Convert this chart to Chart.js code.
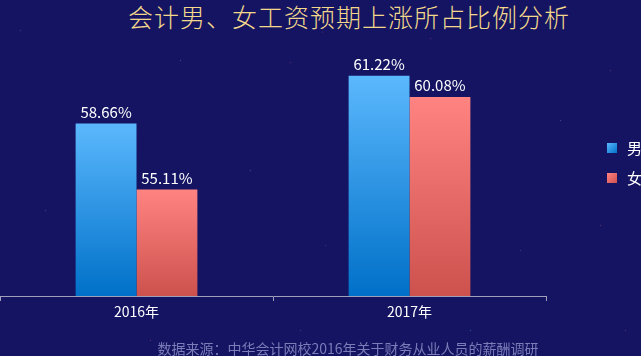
<!DOCTYPE html>
<html>
<head>
<meta charset="utf-8">
<script src="https://cdn.jsdelivr.net/npm/chart.js@4"></script>
<style>
  html, body { margin: 0; padding: 0; }
  body {
    width: 641px; height: 356px; overflow: hidden; position: relative;
    background: #141462;
    font-family: "Noto Sans CJK SC", "Noto Sans", sans-serif;
  }
  #stars { position: absolute; left: 0; top: 0; width: 1px; height: 1px; border-radius: 50%;
    box-shadow:
      290px 62px 2px rgba(255,120,140,.7), 322px 32px 2px rgba(255,120,140,.6), 430px 38px 2px rgba(255,130,150,.6),
      180px 60px 1px rgba(200,200,255,.5), 520px 20px 1px rgba(200,200,255,.5), 610px 70px 1px rgba(255,130,150,.5),
      45px 210px 1px rgba(255,130,150,.5), 250px 170px 1px rgba(200,200,255,.5), 325px 245px 2px rgba(255,130,150,.6),
      560px 120px 1px rgba(200,200,255,.5), 600px 225px 1px rgba(255,130,150,.5), 470px 330px 1px rgba(120,220,255,.6),
      20px 30px 1px rgba(200,200,255,.4), 95px 290px 1px rgba(200,200,255,.4), 520px 250px 1px rgba(200,200,255,.4),
      300px 330px 1px rgba(200,200,255,.4), 150px 340px 1px rgba(255,130,150,.5), 625px 330px 1px rgba(255,130,150,.5);
  }
  #title {
    position: absolute; left: 0; width: 698px; top: -2px; text-align: center;
    color: #f3d88c; font-size: 25px; font-weight: 300; letter-spacing: 1px; white-space: nowrap;
  }
  #source {
    position: absolute; left: 0; width: 696px; top: 338px; text-align: center;
    color: #7b7cb8; font-size: 14px; white-space: nowrap;
  }
  #legend { position: absolute; left: 607px; top: 139px; color: #fff; font-size: 15px; }
  .item { height: 30px; display: flex; align-items: flex-start; }
  .box { width: 10px; height: 10px; margin-top: 4px; margin-right: 10px; }
  .lbl { line-height: 18px; }
  canvas { position: absolute; left: 0; top: 0; }
</style>
</head>
<body>
<div id="stars"></div>
<div id="title">会计男、女工资预期上涨所占比例分析</div>
<canvas id="chart" width="641" height="356"></canvas>
<div id="legend"></div>
<div id="source">数据来源：中华会计网校2016年关于财务从业人员的薪酬调研</div>
<script>
const categories = ["2016年", "2017年"];
const seriesNames = ["男", "女"];
const maleValues = [58.66, 61.22];
const femaleValues = [55.11, 60.08];

const gradColors = [
  ["#5bb8fd", "#0070c8"],
  ["#ff8481", "#cd524e"]
];

function barGradient(context, pair) {
  const chart = context.chart;
  const area = chart.chartArea;
  if (!area || context.parsed == null) return pair[1];
  const top = chart.scales.y.getPixelForValue(context.parsed.y);
  const g = chart.ctx.createLinearGradient(0, top, 0, area.bottom);
  g.addColorStop(0, pair[0]);
  g.addColorStop(1, pair[1]);
  return g;
}

// value labels above each bar
const valueLabels = {
  id: "valueLabels",
  afterDatasetsDraw(chart) {
    const ctx = chart.ctx;
    ctx.save();
    ctx.fillStyle = "#ffffff";
    ctx.font = '15px "Noto Sans CJK SC", sans-serif';
    ctx.textAlign = "center";
    ctx.textBaseline = "bottom";
    chart.data.datasets.forEach((ds, i) => {
      chart.getDatasetMeta(i).data.forEach((bar, j) => {
        ctx.fillText(ds.data[j].toFixed(2) + "%", bar.x, bar.y - 4);
      });
    });
    ctx.restore();
  }
};

new Chart(document.getElementById("chart"), {
  type: "bar",
  data: {
    labels: categories,
    datasets: [
      { label: seriesNames[0], data: maleValues, borderWidth: 0, backgroundColor: c => barGradient(c, gradColors[0]) },
      { label: seriesNames[1], data: femaleValues, borderWidth: 0, backgroundColor: c => barGradient(c, gradColors[1]) }
    ]
  },
  options: {
    responsive: false,
    animation: false,
    layout: { padding: { top: 50, right: 95, left: 0, bottom: 0 } },
    datasets: { bar: { categoryPercentage: 0.446, barPercentage: 1 } },
    plugins: { legend: { display: false }, tooltip: { enabled: false } },
    scales: {
      x: {
        afterFit: s => { s.height = 60; },
        border: { color: "#a0a0bc" },
        grid: { offset: true, drawOnChartArea: false, color: "#a0a0bc", tickLength: 5 },
        ticks: { color: "#ffffff", font: { size: 14, family: "Noto Sans CJK SC" }, padding: 2 }
      },
      y: { display: false, min: 49.4, max: 62.6 }
    }
  },
  plugins: [valueLabels]
});

// legend
const legend = document.getElementById("legend");
seriesNames.forEach((name, i) => {
  const item = document.createElement("div");
  item.className = "item";
  item.innerHTML = '<div class="box" style="background:linear-gradient(135deg,' +
    gradColors[i][0] + ',' + gradColors[i][1] + ')"></div><span class="lbl">' + name + '</span>';
  legend.appendChild(item);
});
</script>
</body>
</html>
